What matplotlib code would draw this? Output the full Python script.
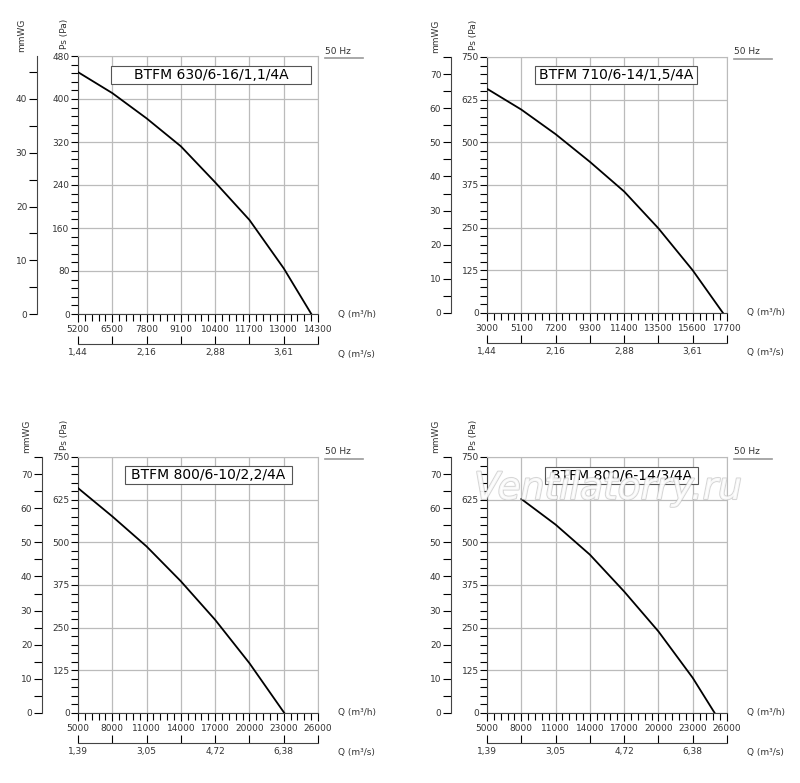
import matplotlib
matplotlib.use("Agg")
import matplotlib.pyplot as plt
import matplotlib.patheffects as pe
from matplotlib.ticker import MultipleLocator, AutoMinorLocator

W, H = 800, 783
fig = plt.figure(figsize=(W/100, H/100), dpi=100)

titles = ["BTFM 630/6-16/1,1/4A", "BTFM 710/6-14/1,5/4A",
          "BTFM 800/6-10/2,2/4A", "BTFM 800/6-14/3/4A"]
q_ticks = [[5200, 6500, 7800, 9100, 10400, 11700, 13000, 14300],
           [3000, 5100, 7200, 9300, 11400, 13500, 15600, 17700],
           [5000, 8000, 11000, 14000, 17000, 20000, 23000, 26000],
           [5000, 8000, 11000, 14000, 17000, 20000, 23000, 26000]]
ps_max = [480, 750, 750, 750]
ps_step = [80, 125, 125, 125]
mm_max = [40, 70, 70, 70]
qs_labels = [["1,44", "2,16", "2,88", "3,61"], ["1,44", "2,16", "2,88", "3,61"],
             ["1,39", "3,05", "4,72", "6,38"], ["1,39", "3,05", "4,72", "6,38"]]
curve_q = [[5200, 6500, 7800, 9100, 10400, 11700, 13000, 14047],
           [3000, 5100, 7200, 9300, 11400, 13500, 15600, 17455],
           [5000, 8000, 11000, 14000, 17000, 20000, 23054],
           [8004, 11000, 14000, 17000, 20000, 23000, 24921]]
curve_ps = [[450, 411, 364, 312, 245, 175, 85, 0],
            [657, 596, 524, 443, 356, 248, 125, 0],
            [659, 576, 488, 386, 273, 146, 0],
            [627, 552, 464, 356, 239, 103, 0]]

geo = [(78, 318, 56, 314, 37, 111, 311, 66, 84),
       (487, 727, 57, 313, 451, 535, 697, 66, 84),
       (78, 318, 457, 713, 42, 125, 292, 466, 484),
       (487, 727, 457, 713, 451, 545, 698, 467, 484)]

def rect(x0, x1, yt, yb):
    return [x0/W, 1 - yb/H, (x1-x0)/W, (yb-yt)/H]

FS = 6.5
TC = "#333333"
for i in range(4):
    x0, x1, yt, yb, mx, bx0, bx1, by0, by1 = geo[i]
    ax = fig.add_axes(rect(x0, x1, yt, yb))
    qt = q_ticks[i]
    ax.set_xlim(qt[0], qt[-1])
    ax.set_ylim(0, ps_max[i])
    ax.set_xticks(qt)
    ax.set_xticklabels([str(v) for v in qt], fontsize=FS, color=TC)
    ax.xaxis.set_minor_locator(AutoMinorLocator(5))
    ax.yaxis.set_major_locator(MultipleLocator(ps_step[i]))
    ax.yaxis.set_minor_locator(AutoMinorLocator(5))
    ax.tick_params(axis='y', labelsize=FS, labelcolor=TC, length=5, width=0.8, pad=1)
    ax.tick_params(axis='y', which='minor', length=5, width=0.8)
    ax.tick_params(axis='x', labelsize=FS, labelcolor=TC, length=6, width=0.8, pad=2)
    ax.tick_params(axis='x', which='minor', length=5, width=0.8)
    ax.grid(True, which='major', color='#bbbbbb', linewidth=0.9)
    for s in ['top', 'right']:
        ax.spines[s].set_color('#bbbbbb')
    for s in ['left', 'bottom']:
        ax.spines[s].set_color('#444444')
    ax.plot(curve_q[i], curve_ps[i], color='black', linewidth=1.3, zorder=5)

    am = fig.add_axes(rect(mx, mx + 1, yt, yb))
    am.set_ylim(0, ps_max[i] / 10)
    am.set_xticks([])
    am.set_yticks([v for v in range(0, mm_max[i] + 1, 10)])
    am.yaxis.set_minor_locator(MultipleLocator(5))
    am.tick_params(axis='y', labelsize=FS, labelcolor=TC, length=6, width=0.8, pad=1)
    am.tick_params(axis='y', which='minor', length=6, width=0.8)
    for s in ['top', 'right', 'bottom']:
        am.spines[s].set_visible(False)
    am.spines['left'].set_color('#444444')
    am.patch.set_alpha(0)

    ys = yb + 30
    aq = fig.add_axes([x0/W, 1 - ys/H, (x1-x0)/W, 0.0001])
    aq.set_xlim(0, 7)
    aq.set_yticks([])
    aq.set_xticks(range(8))
    aq.set_xticklabels([qs_labels[i][0], "", qs_labels[i][1], "", qs_labels[i][2], "",
                        qs_labels[i][3], ""], fontsize=FS, color=TC)
    aq.tick_params(axis='x', direction='in', length=6, width=0.8, pad=3)
    for s in ['top', 'right', 'left']:
        aq.spines[s].set_visible(False)
    aq.spines['bottom'].set_color('#444444')

    fig.text((x1 + 20)/W, 1 - yb/H, "Q (m³/h)", fontsize=FS, color=TC, va='center')
    fig.text((x1 + 20)/W, 1 - (ys + 10)/H, "Q (m³/s)", fontsize=FS, color=TC, va='center')
    fig.text((mx - 15)/W, 1 - (yt - 37)/H, "mmWG", fontsize=FS, color=TC,
             rotation=90, ha='center', va='top')
    fig.text((x0 - 14)/W, 1 - (yt - 37)/H, "Ps (Pa)", fontsize=FS, color=TC,
             rotation=90, ha='center', va='top')
    fig.text((x1 + 7)/W, 1 - (yt - 5)/H, "50 Hz", fontsize=FS, color=TC, va='center')
    fig.add_artist(plt.Line2D([(x1 + 7)/W, (x1 + 45)/W], [1 - (yt + 2)/H, 1 - (yt + 2)/H],
                              color='#999999', linewidth=1.2))
    fig.add_artist(plt.Rectangle((bx0/W, 1 - by1/H), (bx1-bx0)/W, (by1-by0)/H,
                                 facecolor='white', edgecolor='#555555', linewidth=0.8, zorder=6))
    fig.text((bx0 + bx1)/2/W, 1 - (by0 + by1)/2/H, titles[i], fontsize=10,
             ha='center', va='center', zorder=7)

wm = fig.text(608/W, 1 - 489/H, "Ventilatorry.ru", fontsize=27, style='italic',
              color='white', ha='center', va='center', alpha=0.6, zorder=10)
wm.set_path_effects([pe.withStroke(linewidth=1.5, foreground='#bbbbbb'), pe.Normal()])

fig.savefig("out.png", dpi=100)
